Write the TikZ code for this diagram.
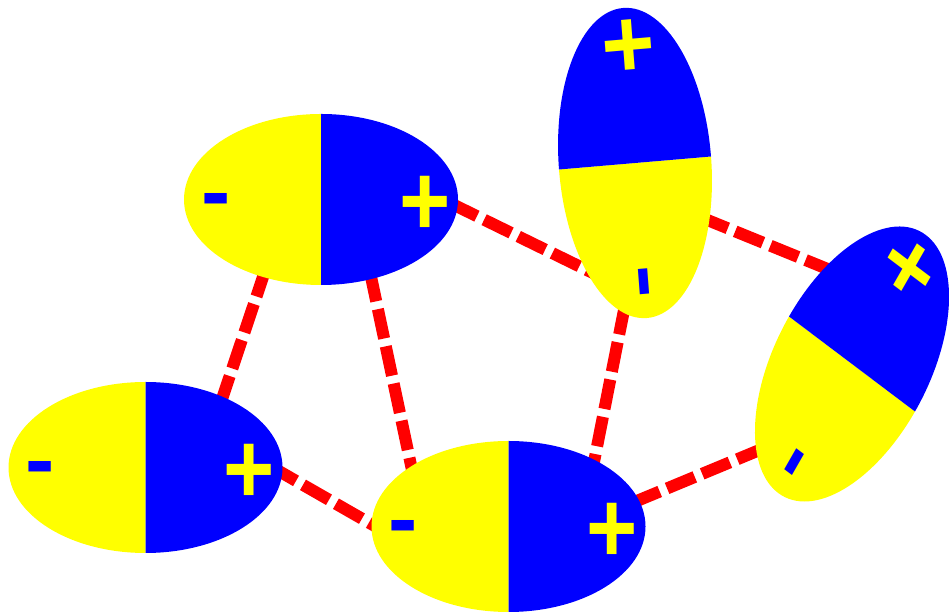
\documentclass[tikz,border=0pt]{standalone}
\usepackage{fontspec}
\setmainfont{Liberation Sans}
\usepackage{xcolor}
\usepackage{tikz}
\definecolor{dipyellow}{RGB}{255,255,0}
\definecolor{dipblue}{RGB}{0,0,255}
\definecolor{bondred}{RGB}{255,0,0}

\tikzset{
  bond/.style={draw=bondred, line width=0.24cm, dash pattern=on 0.6cm off 0.16cm},
  chargesign/.style={transform shape, anchor=base, inner sep=0pt,
                     font=\fontsize{50}{60}\selectfont\bfseries},
}

% one dipole: yellow (-) half left, blue (+) half right
\newcommand{\dipole}[2]{%
  \begin{scope}[#1]
    \fill[dipyellow] (0,85.5) arc[start angle=90, end angle=270, x radius=137, y radius=85.5] -- cycle;
    \fill[dipblue] (0,-85.5) arc[start angle=-90, end angle=90, x radius=137, y radius=85.5] -- cycle;
    \node[chargesign, text=dipblue] (#2-minus) at (-105,-22) {-};
    \node[chargesign, text=dipyellow, yscale=1.15] (#2-plus) at (104,-36) {+};
  \end{scope}}

\begin{document}
\begin{tikzpicture}[x=0.02cm, y=0.02cm]
  \useasboundingbox (0,0) rectangle (949,614);

  % bond ends (under the dipoles)
  \coordinate (tl-a) at (266,346);
  \coordinate (tl-b) at (370,342);
  \coordinate (tl-c) at (450,411);
  \coordinate (bl-a) at (219,206);
  \coordinate (bl-b) at (270,148);
  \coordinate (bm-a) at (412,144);
  \coordinate (bm-b) at (380,85);
  \coordinate (bm-c) at (592,142);
  \coordinate (bm-d) at (632,111);
  \coordinate (up-a) at (595,340);
  \coordinate (up-b) at (625,309);
  \coordinate (up-c) at (700,397);
  \coordinate (rt-a) at (830,344);
  \coordinate (rt-b) at (762,165);

  % dipole-dipole bonds
  \draw[bond] (tl-a) -- (bl-a);
  \draw[bond] (tl-b) -- (bm-a);
  \draw[bond] (bl-b) -- (bm-b);
  \draw[bond] (tl-c) -- (up-a);
  \draw[bond] (up-b) -- (bm-c);
  \draw[bond] (up-c) -- (rt-a);
  \draw[bond] (bm-d) -- (rt-b);

  % dipoles
  \dipole{shift={(321,414.5)}}{tl}
  \dipole{shift={(145.5,146.5)}}{bl}
  \dipole{shift={(508.5,87.5)}}{bm}
  \dipole{cm={-0.0876,1.1314,-0.8889,-0.0760,(635,451)}}{up}
  \dipole{cm={0.5387,0.9416,-0.7368,0.5556,(852,250)}}{rt}
\end{tikzpicture}
\end{document}
